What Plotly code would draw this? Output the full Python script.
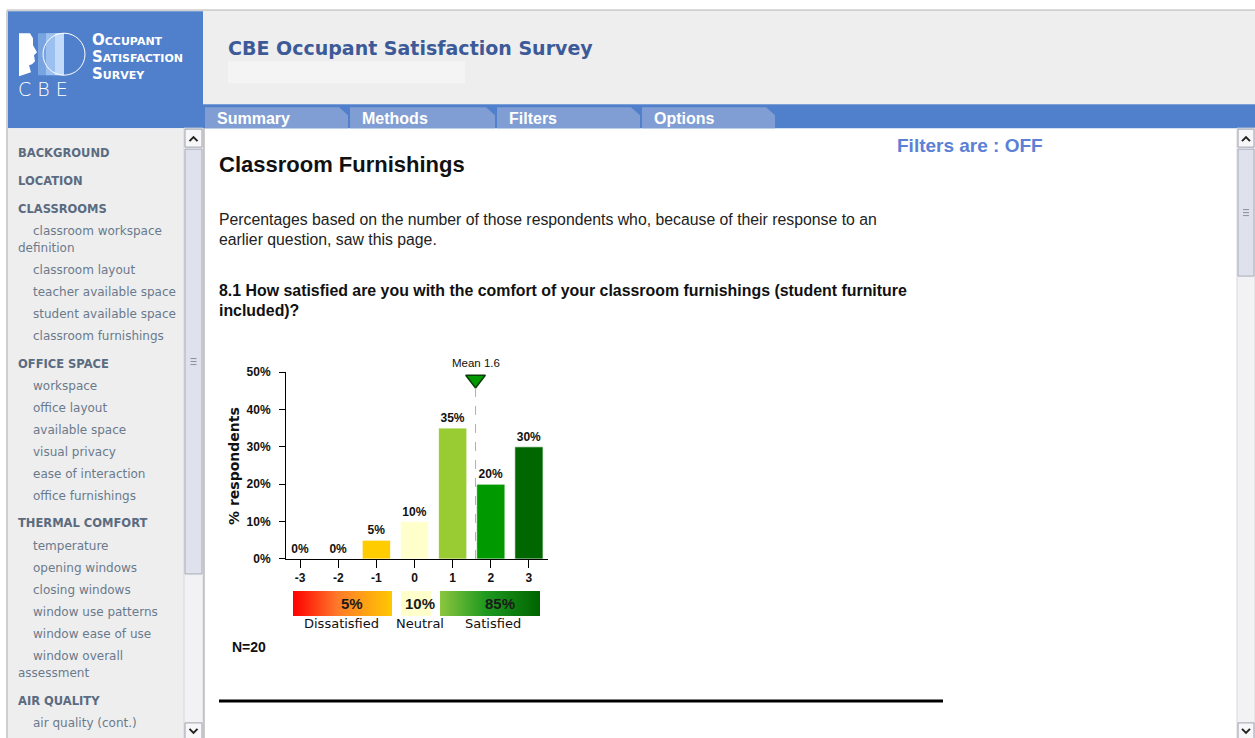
import plotly.graph_objects as go

W, H = 1255, 738

# ---------------- data ----------------
categories = [-3, -2, -1, 0, 1, 2, 3]
percents = [0, 0, 5, 10, 35, 20, 30]
bar_colors = ["#ff0000", "#ff9900", "#ffcc00", "#ffffcc", "#99cc33", "#009900", "#006600"]
mean_value = 1.6
n_respondents = 20
summary_labels = ["Dissatisfied", "Neutral", "Satisfied"]
summary_values = [5, 10, 85]
y_ticks = [0, 10, 20, 30, 40, 50]

sidebar_items = [
    ("BACKGROUND", "h", 152), ("LOCATION", "h", 180), ("CLASSROOMS", "h", 208),
    ("classroom workspace", "i", 230), ("definition", "c", 247),
    ("classroom layout", "i", 269), ("teacher available space", "i", 291),
    ("student available space", "i", 313), ("classroom furnishings", "i", 335),
    ("OFFICE SPACE", "h", 363), ("workspace", "i", 385), ("office layout", "i", 407),
    ("available space", "i", 429), ("visual privacy", "i", 451),
    ("ease of interaction", "i", 473), ("office furnishings", "i", 495),
    ("THERMAL COMFORT", "h", 522), ("temperature", "i", 545),
    ("opening windows", "i", 567), ("closing windows", "i", 589),
    ("window use patterns", "i", 611), ("window ease of use", "i", 633),
    ("window overall", "i", 655), ("assessment", "c", 672),
    ("AIR QUALITY", "h", 700), ("air quality (cont.)", "i", 722),
]
tabs = [("Summary", 205, 348), ("Methods", 350, 495), ("Filters", 497, 640), ("Options", 642, 775)]

ARIAL = "Arial, Liberation Sans, sans-serif"
VERD = "Verdana, DejaVu Sans, sans-serif"
BLUE = "#5080cb"

# vertical calibration of the photographed page
VA, VB = 0.9818, 5.8
HF = 752


def px(x):
    return x / W


def py(y):
    return 1 - ((y - VB) / VA) / HF


shapes = []
annotations = []


def rect(x0, y0, x1, y1, fill, line=None, lw=0, layer="below"):
    shapes.append(dict(type="rect", xref="paper", yref="paper", x0=px(x0), x1=px(x1),
                       y0=py(y1), y1=py(y0), fillcolor=fill,
                       line=dict(color=line or fill, width=lw), layer=layer))


def hline(x0, x1, y, color, width, layer="below", dash="solid"):
    shapes.append(dict(type="line", xref="paper", yref="paper", x0=px(x0), x1=px(x1),
                       y0=py(y), y1=py(y), line=dict(color=color, width=width, dash=dash), layer=layer))


def vline(x, y0, y1, color, width, layer="below"):
    shapes.append(dict(type="line", xref="paper", yref="paper", x0=px(x), x1=px(x),
                       y0=py(y0), y1=py(y1), line=dict(color=color, width=width), layer=layer))


def path(points, fill, line="rgba(0,0,0,0)", lw=0, closed=True, layer="below"):
    d = "M " + " L ".join(f"{px(a):.5f},{py(b):.5f}" for a, b in points)
    if closed:
        d += " Z"
    shapes.append(dict(type="path", xref="paper", yref="paper", path=d,
                       fillcolor=fill if closed else None, line=dict(color=line, width=lw), layer=layer))


def txt(x, y, s, size, color, family=ARIAL, xanchor="left", variant=None, weight=None):
    f = dict(family=family, size=size, color=color)
    if variant:
        f["variant"] = variant
    if weight:
        f["weight"] = weight
    annotations.append(dict(x=px(x), y=py(y), xref="paper", yref="paper", text=s,
                            showarrow=False, xanchor=xanchor, yanchor="middle", font=f,
                            borderpad=0))


# ---------------- page chrome ----------------
rect(0, 0, W, H + 20, "#ffffff")
hline(7, W, 9, "#cfcfcf", 2)
vline(7, 9, H + 10, "#cfcfcf", 2)
# header
rect(8, 10, 203, 127, BLUE)
rect(203, 10, W, 103, "#eeeeee")
rect(228, 60, 465, 82, "#f4f4f4")
rect(203, 103, W, 127, BLUE)
for name, x0, x1 in tabs:
    path([(x0, 127), (x0, 106), (x1 - 9, 106), (x1, 114), (x1, 127)], "#809ed3")
    txt(x0 + 11, 117, f"<b>{name}</b>", 16, "#ffffff")
txt(227, 47, "<b>CBE Occupant Satisfaction Survey</b>", 19, "#3d5a98", family=VERD)

# logo
rect(38, 32, 64, 74, "#78a4e2")
rect(46, 32, 64, 74, "#9cc0f0")
rect(55, 32, 64, 74, "#c2dbfa")
shapes.append(dict(type="circle", xref="paper", yref="paper", x0=px(43), x1=px(85),
                   y0=py(74), y1=py(32), line=dict(color="#ffffff", width=1), layer="below"))
path([(19, 32), (30, 32), (33, 37), (33, 44), (37, 51), (34, 54), (35, 60), (32, 63),
      (29, 64), (31, 71), (19, 75)], "#ffffff")
txt(91, 39, "<b>Occupant</b>", 15, "#ffffff", family=VERD, variant="small-caps")
txt(91, 56, "<b>Satisfaction</b>", 15, "#ffffff", family=VERD, variant="small-caps")
txt(91, 73, "<b>Survey</b>", 15, "#ffffff", family=VERD, variant="small-caps")
txt(17, 88, "C B E", 19, "#ffffff", family=VERD, weight=200)

# sidebar
rect(8, 127, 184, H + 10, "#eeeeee")
for label, kind, y in sidebar_items:
    if kind == "h":
        txt(17, y, f"<b>{label}</b>", 11.5, "#5b6b80", family=VERD)
    elif kind == "i":
        txt(32, y, label, 12, "#6a7a8d", family=VERD)
    else:
        txt(17, y, label, 12, "#6a7a8d", family=VERD)


def scrollbar(x0, x1, thumb0, thumb1):
    rect(x0, 127, x1, H + 10, "#f2f2f5", "#d8d8de", 1)
    rect(x0 + 1, 128, x1 - 1, 146, "#f7f7f9", "#9fa2ad", 1)
    rect(x0 + 1, 722, x1 - 1, 738, "#f7f7f9", "#9fa2ad", 1)
    rect(x0 + 1, thumb0, x1 - 1, thumb1, "#dfe2ec", "#a7abba", 1)
    cx = (x0 + x1) / 2
    path([(cx - 4, 140), (cx, 136), (cx + 4, 140)], None, "#222222", 2, closed=False)
    path([(cx - 4, 728), (cx, 732), (cx + 4, 728)], None, "#222222", 2, closed=False)
    mid = (thumb0 + thumb1) / 2
    for dy in (-3, 0, 3):
        hline(cx - 3, cx + 3, mid + dy, "#8a8e9a", 1)


scrollbar(184, 203, 148, 573)
scrollbar(1237, W, 148, 275)
vline(204, 127, H + 10, "#9a9a9a", 1)

# main content text
txt(896, 144, "<b>Filters are : OFF</b>", 19, "#5b80d6")
txt(218, 163, "<b>Classroom Furnishings</b>", 22, "#111111")
txt(218, 218, "Percentages based on the number of those respondents who, because of their response to an",
    15.8, "#222222")
txt(218, 238, "earlier question, saw this page.", 15.8, "#222222")
txt(218, 289, "<b>8.1 How satisfied are you with the comfort of your classroom furnishings (student furniture</b>",
    15.9, "#111111")
txt(218, 309, "<b>included)?</b>", 15.9, "#111111")
txt(231, 646, f"<b>N={n_respondents}</b>", 14, "#111111")
hline(219, 943, 700, "#000000", 3)

# ---------------- chart ----------------
fig = go.Figure()
fig.add_trace(go.Bar(
    x=categories, y=percents, width=0.74,
    marker=dict(color=bar_colors, line=dict(color="rgba(255,255,255,0.7)", width=1)),
    text=[f"<b>{v}%</b>" for v in percents], textposition="outside", cliponaxis=False,
    textfont=dict(family=ARIAL, size=12, color="#111111"),
    hoverinfo="skip", showlegend=False,
))
# mean marker
fig.add_trace(go.Scatter(
    x=[mean_value], y=[48], mode="markers", cliponaxis=False,
    marker=dict(symbol="triangle-down", size=17, color="#009900", line=dict(color="#0b3d0b", width=1.5)),
    hoverinfo="skip", showlegend=False,
))
shapes.append(dict(type="line", xref="x", yref="y", x0=mean_value, x1=mean_value, y0=0, y1=46.3,
                   line=dict(color="#b0b0b0", width=1, dash="dash"), layer="above"))
annotations.append(dict(x=mean_value, xref="x", y=py(362), yref="paper", text=f"Mean {mean_value}",
                        showarrow=False, xanchor="center", yanchor="middle",
                        font=dict(family=ARIAL, size=11.5, color="#111111")))
annotations.append(dict(x=px(234), y=py(465), xref="paper", yref="paper", text="<b>% respondents</b>",
                        showarrow=False, textangle=-90, xanchor="center", yanchor="middle",
                        font=dict(family=VERD, size=14, color="#111111")))

# summary strip (pixel overlay axes)
strip = [
    (293, 392, [[0, "#ff0000"], [0.45, "#ff7a2a"], [1, "#ffc800"]], 352),
    (401, 431, [[0, "#ffffcc"], [1, "#ffffcc"]], 420),
    (440, 540, [[0, "#8cc63f"], [0.45, "#1f9a1f"], [1, "#006400"]], 500),
]
label_x = [341, 420, 493]
for (x0, x1, cs, tx), val, lab, lx in zip(strip, summary_values, summary_labels, label_x):
    fig.add_trace(go.Scatter(
        x=[x0, x1, x1, x0, x0], y=[590, 590, 615, 615, 590], xaxis="x2", yaxis="y2",
        mode="lines", fill="toself", line=dict(width=0),
        fillgradient=dict(type="horizontal", colorscale=cs),
        hoverinfo="skip", showlegend=False,
    ))
    annotations.append(dict(x=tx, y=603, xref="x2", yref="y2", text=f"<b>{val}%</b>", showarrow=False,
                            xanchor="center", yanchor="middle",
                            font=dict(family=ARIAL, size=15, color="#1a1a1a")))
    annotations.append(dict(x=lx, y=623, xref="x2", yref="y2", text=lab, showarrow=False,
                            xanchor="center", yanchor="middle",
                            font=dict(family=VERD, size=13, color="#111111")))

fig.update_layout(
    width=W, height=HF, autosize=False,
    margin=dict(l=0, r=0, t=0, b=0, pad=0),
    paper_bgcolor="#ffffff", plot_bgcolor="rgba(0,0,0,0)",
    shapes=shapes, annotations=annotations, bargap=0,
    xaxis=dict(domain=[px(286), px(548)], range=[-3.37, 3.5], tickvals=categories,
               ticktext=[f"<b>{c}</b>" for c in categories],
               ticks="outside", ticklen=8, tickwidth=1, tickcolor="#000000",
               showline=True, linecolor="#000000", linewidth=1, showgrid=False, zeroline=False,
               tickfont=dict(family=ARIAL, size=12, color="#111111"), fixedrange=True, anchor="y"),
    yaxis=dict(domain=[py(558), py(371)], range=[0, 50], tickvals=y_ticks,
               ticktext=[f"<b>{t}%</b>" for t in y_ticks],
               ticks="outside", ticklen=6, tickwidth=1, tickcolor="#000000",
               showline=True, linecolor="#000000", linewidth=1, showgrid=False, zeroline=False,
               tickfont=dict(family=ARIAL, size=12, color="#111111"), fixedrange=True, anchor="x",
               ticklabelstandoff=6),
    xaxis2=dict(domain=[0, 1], range=[0, W], visible=False, anchor="y2", fixedrange=True),
    yaxis2=dict(domain=[0, 1], range=[VA * HF + VB, VB], visible=False, anchor="x2", fixedrange=True),
)

fig.write_html(
    "out.html",
    config={"displayModeBar": False, "staticPlot": True},
    post_script=(
        "document.body.style.margin='0px';document.body.style.overflow='hidden';"
        "var gd=document.getElementById('{plot_id}');"
        "gd.style.position='fixed';gd.style.top='0px';gd.style.left='0px';"
    ),
)
